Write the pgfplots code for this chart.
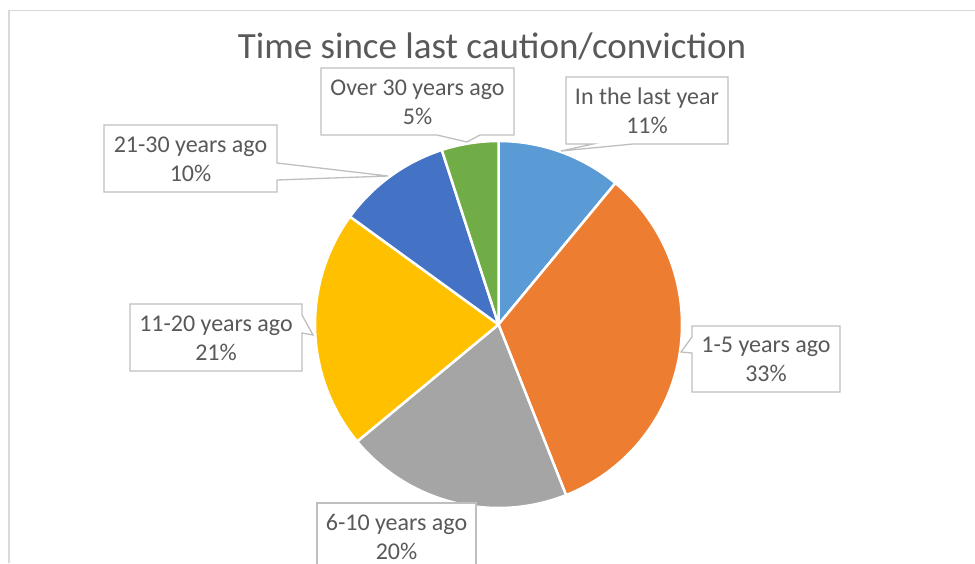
\documentclass[border=0pt]{standalone}
\usepackage{pgfplots}
\pgfplotsset{compat=1.18}
\usepackage{fontspec}
\setmainfont{Carlito}
\definecolor{cA}{HTML}{5B9BD5}
\definecolor{cB}{HTML}{ED7D31}
\definecolor{cC}{HTML}{A5A5A5}
\definecolor{cD}{HTML}{FFC000}
\definecolor{cE}{HTML}{4472C4}
\definecolor{cF}{HTML}{70AD47}
\definecolor{txt}{HTML}{595959}
\definecolor{bx}{HTML}{BFBFBF}
\definecolor{frame}{HTML}{D9D9D9}
% shares (percent), clockwise from 12 o'clock
\def\pA{11}\def\pB{33}\def\pC{20}\def\pD{21}\def\pE{10}\def\pF{5}
\def\cx{498.5}\def\cy{324.5}\def\rr{183.5}
\newcommand{\slice}[3]{%
  \addplot[fill=#3, draw=white, line width=2.5pt, line join=round, domain={(#1)*3.6}:{(#2)*3.6}, samples=80, variable=\t]
    ({\cx+\rr*sin(\t)},{\cy-\rr*cos(\t)}) -- (axis cs:\cx,\cy) -- cycle;}
\newcommand{\lbl}[4]{% x, y-center of box, line1, line2
  \node[anchor=base, text=txt, font=\fontsize{24}{29}\selectfont, inner sep=0pt] at (axis cs:#1,{#2-6.5}) {#3};
  \node[anchor=base, text=txt, font=\fontsize{24}{29}\selectfont, inner sep=0pt] at (axis cs:#1,{#2+22.5}) {#4};}
\begin{document}
\begin{tikzpicture}
\begin{axis}[scale only axis, width=975pt, height=563pt,
  xmin=0, xmax=975, ymin=0, ymax=563, y dir=reverse,
  hide axis, clip=true]
\addplot[fill=white, draw=none] coordinates {(0,0) (975,0) (975,563) (0,563)} -- cycle;
\addplot[draw=frame, line width=1.3pt] coordinates {(9,563) (9,10.5) (975,10.5)};
% pie slices
\slice{0}{\pA}{cA}
\slice{\pA}{\pA+\pB}{cB}
\slice{\pA+\pB}{\pA+\pB+\pC}{cC}
\slice{\pA+\pB+\pC}{\pA+\pB+\pC+\pD}{cD}
\slice{\pA+\pB+\pC+\pD}{\pA+\pB+\pC+\pD+\pE}{cE}
\slice{\pA+\pB+\pC+\pD+\pE}{100}{cF}
% callout boxes
\addplot[draw=bx, fill=white, line width=1.3pt] coordinates {(321,68) (514,68) (514,135) (480,135) (467,142) (437,135) (321,135)} -- cycle;
\addplot[draw=bx, fill=white, line width=1.3pt] coordinates {(566,77) (728,77) (728,144) (633,144) (561,151) (593,144) (566,144)} -- cycle;
\addplot[draw=bx, fill=white, line width=1.3pt] coordinates {(104,125) (277,125) (277,163) (388,176) (277,180) (277,192) (104,192)} -- cycle;
\addplot[draw=bx, fill=white, line width=1.3pt] coordinates {(130,304) (302,304) (302,315) (313,335) (302,333) (302,371) (130,371)} -- cycle;
\addplot[draw=bx, fill=white, line width=1.3pt] coordinates {(692,326) (840,326) (840,392) (692,392) (692,353) (681,352) (692,337)} -- cycle;
\addplot[draw=bx, fill=white, line width=1.3pt] coordinates {(317,503) (476,503) (476,575) (317,575)} -- cycle;
\lbl{417.5}{101.5}{Over 30 years ago}{5\%}
\lbl{647}{110.5}{In the last year}{11\%}
\lbl{190.5}{158.5}{21-30 years ago}{10\%}
\lbl{216}{337.5}{11-20 years ago}{21\%}
\lbl{766}{359}{1-5 years ago}{33\%}
\lbl{396.5}{536.5}{6-10 years ago}{20\%}
\node[anchor=base, text=txt, font=\fontsize{37}{40}\selectfont, inner sep=0pt] at (axis cs:492,58) {Time since last caution/conviction};
\end{axis}
\end{tikzpicture}
\end{document}
